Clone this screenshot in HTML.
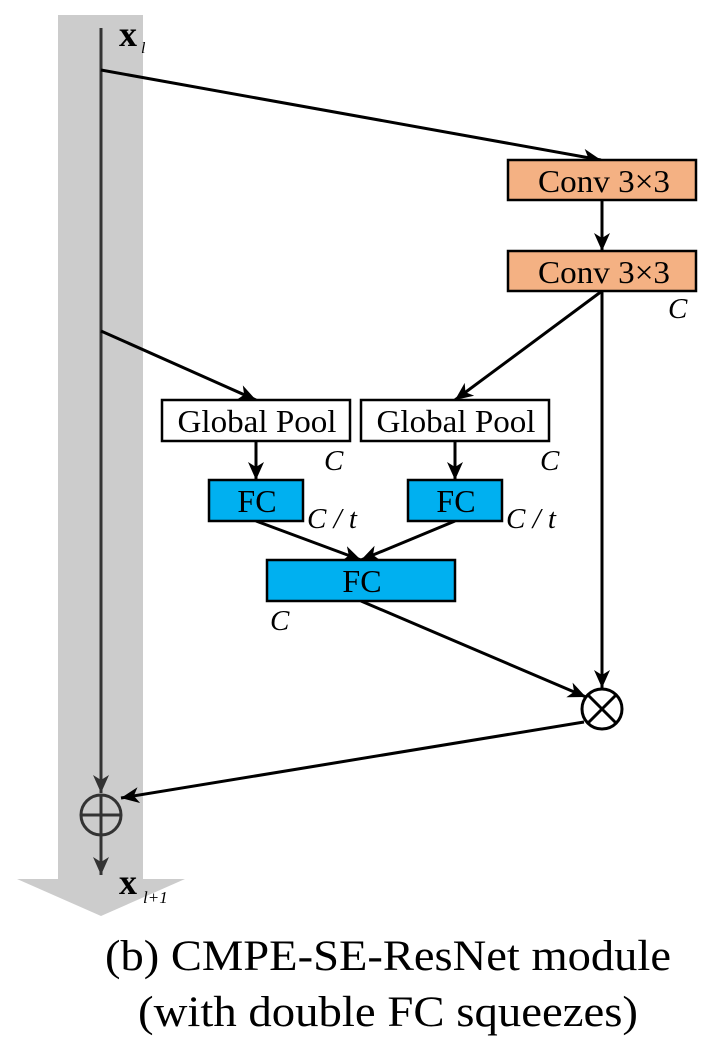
<!DOCTYPE html>
<html><head><style>body{margin:0;background:#fff}svg{display:block}</style></head><body>
<svg width="723" height="1048" viewBox="0 0 723 1048" xmlns="http://www.w3.org/2000/svg" font-family="Liberation Serif, serif">
<defs>
<marker id="b" markerWidth="20" markerHeight="20" refX="18" refY="8" orient="auto" markerUnits="userSpaceOnUse"><path d="M0,0 L18,8 L0,16 L5,8 z"/></marker>
<marker id="g" markerWidth="20" markerHeight="20" refX="18" refY="8" orient="auto" markerUnits="userSpaceOnUse"><path d="M0,0 L18,8 L0,16 L5,8 z" fill="#333"/></marker></defs>
<path d="M58,15 H143 V879 H185 L101,916 L17,879 H58 Z" fill="#cccccc"/>
<line x1="101" y1="28" x2="101" y2="793" stroke="#333" stroke-width="3" marker-end="url(#g)"/>
<circle cx="101" cy="815" r="20" fill="none" stroke="#333" stroke-width="3"/>
<line x1="81" y1="815" x2="121" y2="815" stroke="#333" stroke-width="3"/>
<line x1="101" y1="795" x2="101" y2="835" stroke="#333" stroke-width="3"/>
<line x1="101" y1="835" x2="101" y2="875" stroke="#333" stroke-width="3" marker-end="url(#g)"/>
<g stroke="#000" stroke-width="3" fill="none">
<line x1="101" y1="70" x2="601" y2="160" marker-end="url(#b)"/>
<line x1="101" y1="331" x2="256" y2="400" marker-end="url(#b)"/>
<line x1="602" y1="200" x2="602" y2="251" marker-end="url(#b)"/>
<line x1="602" y1="291" x2="455" y2="400" marker-end="url(#b)"/>
<line x1="602" y1="291" x2="602" y2="688" marker-end="url(#b)"/>
<line x1="256" y1="441" x2="256" y2="480" marker-end="url(#b)"/>
<line x1="455" y1="441" x2="455" y2="480" marker-end="url(#b)"/>
<line x1="256" y1="521" x2="361" y2="560" marker-end="url(#b)"/>
<line x1="455" y1="521" x2="361" y2="560" marker-end="url(#b)"/>
<line x1="361" y1="601" x2="586" y2="697" marker-end="url(#b)"/>
<line x1="584" y1="722" x2="121" y2="798" marker-end="url(#b)"/>
<circle cx="602" cy="709" r="20" stroke-width="3"/>
<line x1="588" y1="695" x2="616" y2="723"/><line x1="616" y1="695" x2="588" y2="723"/>
</g>
<g stroke="#000" stroke-width="2.5">
<rect x="508" y="160" width="188" height="40" fill="#f4b183"/>
<rect x="508" y="251" width="188" height="40" fill="#f4b183"/>
<rect x="162" y="400" width="188" height="41" fill="#fff"/>
<rect x="361" y="400" width="188" height="41" fill="#fff"/>
<rect x="209" y="480" width="94" height="41" fill="#00b0f0"/>
<rect x="408" y="480" width="94" height="41" fill="#00b0f0"/>
<rect x="267" y="560" width="188" height="41" fill="#00b0f0"/>
</g>
<g font-size="32" text-anchor="middle">
<text x="604" y="192" textLength="132" lengthAdjust="spacingAndGlyphs">Conv 3×3</text><text x="604" y="283" textLength="132" lengthAdjust="spacingAndGlyphs">Conv 3×3</text>
<text x="257" y="432" textLength="159" lengthAdjust="spacingAndGlyphs">Global Pool</text><text x="456" y="432" textLength="159" lengthAdjust="spacingAndGlyphs">Global Pool</text>
<text x="257" y="512">FC</text><text x="456" y="512">FC</text><text x="362" y="592">FC</text>
</g>
<g font-size="29" font-style="italic">
<text x="668" y="318">C</text><text x="324" y="470">C</text><text x="540" y="470">C</text>
<text x="307" y="528">C / t</text><text x="506" y="528">C / t</text><text x="270" y="630">C</text>
</g>
<text x="119" y="46" font-size="36" font-weight="bold">x</text><text x="141" y="53" font-size="16" font-style="italic">l</text>
<text x="119" y="894" font-size="36" font-weight="bold">x</text><text x="143" y="903" font-size="17" font-style="italic">l+1</text>
<g font-size="43" text-anchor="middle"><text x="388" y="970" textLength="566" lengthAdjust="spacingAndGlyphs">(b) CMPE-SE-ResNet module</text><text x="388" y="1026" textLength="500" lengthAdjust="spacingAndGlyphs">(with double FC squeezes)</text></g>
</svg></body></html>
